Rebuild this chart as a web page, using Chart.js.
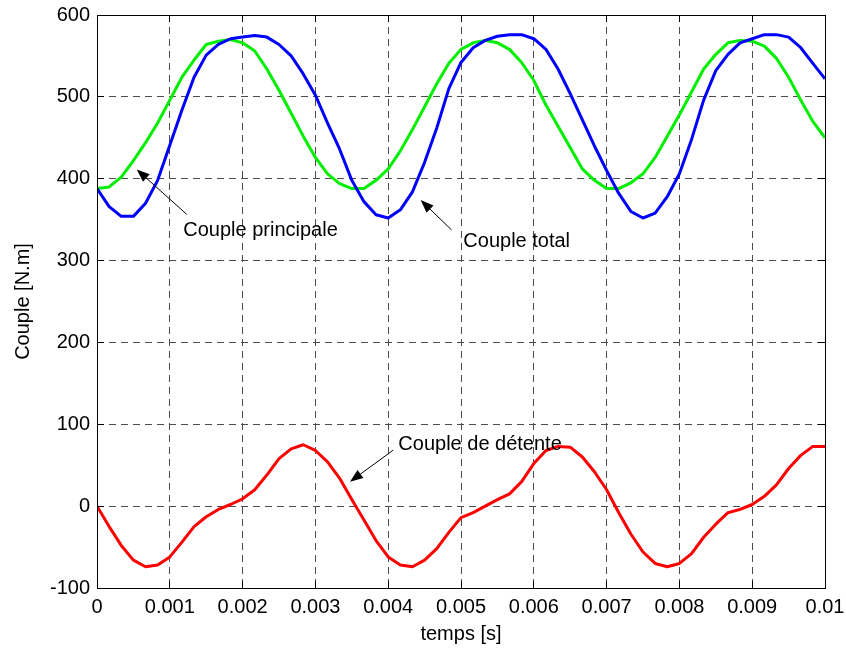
<!DOCTYPE html>
<html>
<head>
<meta charset="utf-8">
<title>Couple</title>
<script src="https://cdn.jsdelivr.net/npm/chart.js@4"></script>
<style>
  html, body { margin: 0; padding: 0; background: #fff; }
  canvas { display: block; }
</style>
</head>
<body>
<canvas id="coupleChart" width="846" height="650"></canvas>
<script>
// temps [s]
const temps = [0, 0.000167, 0.000333, 0.0005, 0.000667, 0.000833, 0.001, 0.001167, 0.001333, 0.0015,
  0.001667, 0.001833, 0.002, 0.002167, 0.002333, 0.0025, 0.002667, 0.002833, 0.003, 0.003167,
  0.003333, 0.0035, 0.003667, 0.003833, 0.004, 0.004167, 0.004333, 0.0045, 0.004667, 0.004833,
  0.005, 0.005167, 0.005333, 0.0055, 0.005667, 0.005833, 0.006, 0.006167, 0.006333, 0.0065,
  0.006667, 0.006833, 0.007, 0.007167, 0.007333, 0.0075, 0.007667, 0.007833, 0.008, 0.008167,
  0.008333, 0.0085, 0.008667, 0.008833, 0.009, 0.009167, 0.009333, 0.0095, 0.009667, 0.009833, 0.01];

const coupleTotal = [388, 366, 354, 354, 370, 398, 441, 484, 524, 551,
  564, 571, 573, 575, 573, 564, 550, 528, 502, 468,
  436, 398, 372, 356, 352, 362, 384, 420, 462, 510,
  542, 560, 569, 574, 576, 576, 571, 558, 534, 504,
  472, 440, 410, 382, 360, 352, 358, 378, 406, 448,
  496, 532, 552, 566, 571, 576, 576, 573, 560, 541, 522];

const couplePrincipale = [388, 390, 402, 422, 444, 468, 496, 524, 545, 564,
  568, 570, 566, 556, 534, 508, 480, 452, 426, 406,
  394, 388, 388, 398, 412, 434, 460, 488, 516, 541,
  558, 566, 569, 566, 558, 542, 520, 490, 464, 438,
  412, 398, 388, 388, 395, 406, 426, 452, 478, 506,
  534, 552, 566, 569, 568, 562, 547, 524, 496, 470, 450];

const coupleDetente = [0, -25, -48, -66, -74, -72, -62, -44, -25, -13,
  -4, 2, 9, 20, 38, 58, 70, 75, 68, 54,
  34, 8, -17, -42, -62, -72, -74, -66, -52, -32,
  -14, -8, 0, 8, 15, 30, 52, 68, 73, 72,
  60, 42, 20, -8, -34, -56, -70, -74, -70, -58,
  -38, -22, -8, -4, 2, 12, 26, 46, 62, 73, 73];

const xTicks = [0, 0.001, 0.002, 0.003, 0.004, 0.005, 0.006, 0.007, 0.008, 0.009, 0.01];
const xTickLabels = ['0', '0.001', '0.002', '0.003', '0.004', '0.005', '0.006', '0.007', '0.008', '0.009', '0.01'];
const yTicks = [-100, 0, 100, 200, 300, 400, 500, 600];
const yTickLabels = ['-100', '0', '100', '200', '300', '400', '500', '600'];

// annotations: text + arrow, in data units [t, couple]
const notes = [
  { text: 'Couple principale', at: [0.001185, 330.6], from: [0.001232, 356.5], to: [0.000545, 411.4] },
  { text: 'Couple total', at: [0.005032, 316.9], from: [0.004872, 337.3], to: [0.004446, 373.9] },
  { text: 'Couple de détente', at: [0.004139, 68.5], from: [0.00407, 68.5], to: [0.003475, 29.8] }
];

const FONT = '20px "Liberation Sans", Arial, Helvetica, sans-serif';

const toPoints = values => values.map((v, i) => ({ x: temps[i], y: v }));
const crisp = p => Math.round(p - 0.5) + 0.5;

const drawArrow = (ctx, x1, y1, x2, y2) => {
  const ang = Math.atan2(y2 - y1, x2 - x1);
  const len = 13, half = 5;
  ctx.beginPath();
  ctx.moveTo(x1, y1);
  ctx.lineTo(x2 - (len - 2) * Math.cos(ang), y2 - (len - 2) * Math.sin(ang));
  ctx.stroke();
  ctx.beginPath();
  ctx.moveTo(x2, y2);
  ctx.lineTo(x2 - len * Math.cos(ang) + half * Math.sin(ang), y2 - len * Math.sin(ang) - half * Math.cos(ang));
  ctx.lineTo(x2 - len * Math.cos(ang) - half * Math.sin(ang), y2 - len * Math.sin(ang) + half * Math.cos(ang));
  ctx.closePath();
  ctx.fill();
};

// box, inward ticks, axis titles and text arrows (matlab look)
const framePlugin = {
  id: 'frame',
  afterDraw(chart) {
    const { ctx, chartArea: a, scales: { x, y } } = chart;
    ctx.save();
    ctx.strokeStyle = '#000';
    ctx.fillStyle = '#000';
    ctx.lineWidth = 1;

    ctx.beginPath();
    xTicks.forEach(v => {
      const px = crisp(x.getPixelForValue(v));
      ctx.moveTo(px, a.bottom); ctx.lineTo(px, a.bottom - 7);
      ctx.moveTo(px, a.top); ctx.lineTo(px, a.top + 7);
    });
    yTicks.forEach(v => {
      const py = crisp(y.getPixelForValue(v));
      ctx.moveTo(a.left, py); ctx.lineTo(a.left + 7, py);
      ctx.moveTo(a.right, py); ctx.lineTo(a.right - 7, py);
    });
    ctx.stroke();

    const l = crisp(a.left), r = crisp(a.right), t = crisp(a.top), b = crisp(a.bottom);
    ctx.strokeRect(l, t, r - l, b - t);

    ctx.font = FONT;
    ctx.textAlign = 'center';
    ctx.textBaseline = 'middle';
    ctx.fillText('temps [s]', (a.left + a.right) / 2, 634);
    ctx.save();
    ctx.translate(23, (a.top + a.bottom) / 2);
    ctx.rotate(-Math.PI / 2);
    ctx.fillText('Couple [N.m]', 0, 0);
    ctx.restore();

    ctx.textAlign = 'left';
    ctx.textBaseline = 'alphabetic';
    notes.forEach(n => {
      ctx.fillText(n.text, x.getPixelForValue(n.at[0]), y.getPixelForValue(n.at[1]));
      drawArrow(ctx,
        x.getPixelForValue(n.from[0]), y.getPixelForValue(n.from[1]),
        x.getPixelForValue(n.to[0]), y.getPixelForValue(n.to[1]));
    });
    ctx.restore();
  }
};

const gridStyle = { color: '#4d4d4d', lineWidth: 1, drawTicks: false };
const borderStyle = { display: false, dash: [7, 5] };
const tickFont = { family: '"Liberation Sans", Arial, Helvetica, sans-serif', size: 20 };

new Chart(document.getElementById('coupleChart'), {
  type: 'line',
  data: {
    datasets: [
      { label: 'Couple total', data: toPoints(coupleTotal), borderColor: '#0000ff', borderWidth: 3 },
      { label: 'Couple principale', data: toPoints(couplePrincipale), borderColor: '#00ee00', borderWidth: 3 },
      { label: 'Couple de détente', data: toPoints(coupleDetente), borderColor: '#ff0000', borderWidth: 3 }
    ]
  },
  options: {
    responsive: false,
    animation: false,
    devicePixelRatio: 1,
    layout: { padding: { top: 15, right: 21, left: 0, bottom: 0 } },
    elements: { point: { radius: 0 }, line: { tension: 0, borderJoinStyle: 'round' } },
    plugins: { legend: { display: false }, tooltip: { enabled: false } },
    scales: {
      x: {
        type: 'linear',
        min: 0,
        max: 0.01,
        grid: gridStyle,
        border: borderStyle,
        afterBuildTicks: scale => { scale.ticks = xTicks.map(v => ({ value: v })); },
        afterFit: scale => {
          scale.height = 62;
          scale.paddingLeft = 0;
          scale.paddingRight = 0;
        },
        ticks: {
          color: '#000',
          font: tickFont,
          padding: 7,
          maxRotation: 0,
          autoSkip: false,
          callback: (v, i) => xTickLabels[i]
        }
      },
      y: {
        type: 'linear',
        min: -100,
        max: 600,
        grid: gridStyle,
        border: borderStyle,
        afterBuildTicks: scale => { scale.ticks = yTicks.map(v => ({ value: v })); },
        afterFit: scale => {
          scale.width = 97;
          scale.paddingTop = 0;
          scale.paddingBottom = 0;
        },
        ticks: {
          color: '#000',
          font: tickFont,
          padding: 7,
          autoSkip: false,
          callback: (v, i) => yTickLabels[i]
        }
      }
    }
  },
  plugins: [framePlugin]
});
</script>
</body>
</html>
